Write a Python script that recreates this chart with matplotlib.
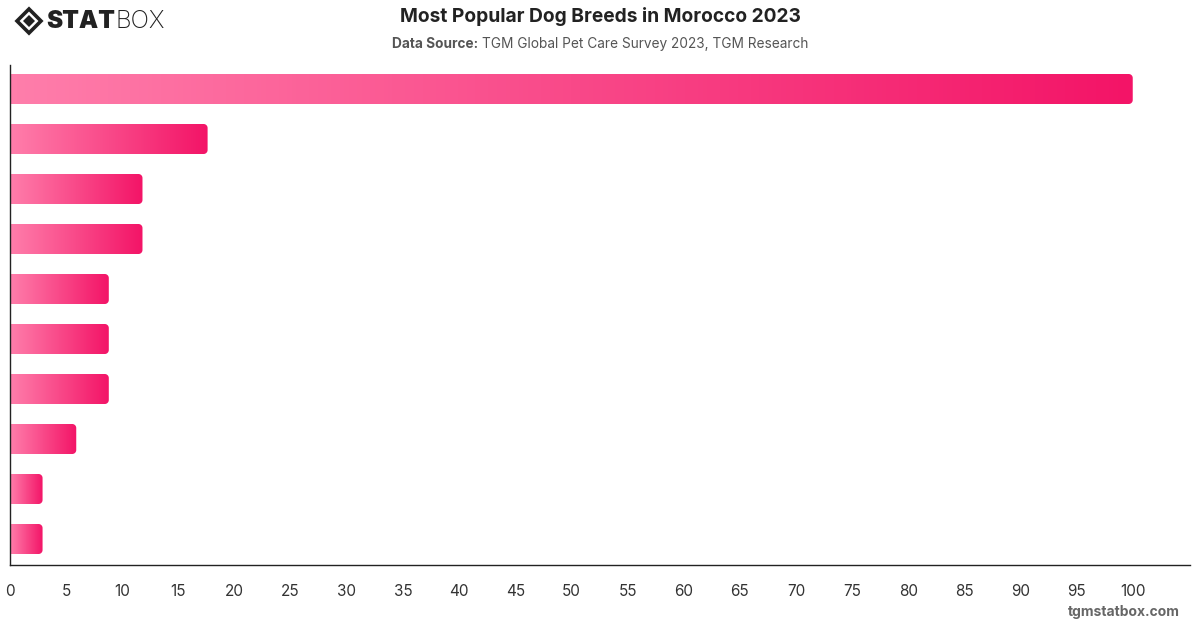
"""Most popular dog breeds in Morocco 2023 - horizontal gradient bars."""
import matplotlib

matplotlib.use("Agg")
import matplotlib.pyplot as plt  # noqa: E402
import numpy as np  # noqa: E402
from matplotlib.colors import LinearSegmentedColormap  # noqa: E402
from matplotlib.patches import PathPatch, Polygon  # noqa: E402
from matplotlib.path import Path  # noqa: E402

plt.rcParams["font.family"] = ["Inter", "DejaVu Sans"]

# breed names are not shown on the chart, so only the rank is kept
ranks = [1, 2, 3, 4, 5, 6, 7, 8, 9, 10]
values = [100, 17.6, 11.8, 11.8, 8.8, 8.8, 8.8, 5.9, 2.9, 2.9]
xticks = list(range(0, 101, 5))

title = "Most Popular Dog Breeds in Morocco 2023"
source = "TGM Global Pet Care Survey 2023, TGM Research"

W, H = 1200, 628
fig = plt.figure(figsize=(W / 100, H / 100), dpi=100)
ax = fig.add_axes([10 / W, 1 - 565 / H, 1180 / W, 500 / H])

cmap = LinearSegmentedColormap.from_list("pink", ["#ff7eab", "#f31467"])
grad = np.linspace(0, 1, 256).reshape(1, -1)

ypos = np.arange(len(ranks))
bar_h = 0.6
xmax = 105.1
rx = 4 / (1180 / xmax)   # 4 px corner radius in data units
ry = 4 / 50


def right_rounded(x1, y0, y1):
    """Rectangle from x=-1 to x1, with rounded right corners."""
    t = np.linspace(0, np.pi / 2, 12)
    top = [(x1 - rx + rx * np.sin(a), y0 + ry - ry * np.cos(a)) for a in t]
    bot = [(x1 - rx + rx * np.cos(a), y1 - ry + ry * np.sin(a)) for a in t]
    verts = [(-1, y0)] + top + bot + [(-1, y1), (-1, y0)]
    codes = [Path.MOVETO] + [Path.LINETO] * (len(verts) - 2) + [Path.CLOSEPOLY]
    return Path(verts, codes)


for y, v in zip(ypos, values):
    clip = PathPatch(right_rounded(v, y - bar_h / 2, y + bar_h / 2),
                     facecolor="none", edgecolor="none", transform=ax.transData)
    ax.add_patch(clip)
    im = ax.imshow(grad, cmap=cmap, aspect="auto",
                   extent=(0, v, y + bar_h / 2, y - bar_h / 2),
                   interpolation="bilinear", zorder=2)
    im.set_clip_path(clip)

ax.set_xlim(0, xmax)
ax.set_ylim(len(ranks) - 0.48, -0.48)
ax.set_yticks([])
ax.set_xticks(xticks)
ax.tick_params(axis="x", length=0, pad=14, labelsize=11, labelcolor="#333333")
for side in ("top", "right"):
    ax.spines[side].set_visible(False)
for side in ("left", "bottom"):
    ax.spines[side].set_color("#222222")
    ax.spines[side].set_linewidth(1.0)
ax.spines["left"].set_zorder(5)

fig.text(0.5, 1 - 17 / H, title, ha="center", va="center",
         fontsize=13.8, fontweight="bold", color="#222222")
t1 = fig.text(0.5, 1 - 44 / H, "Data Source: ", ha="right", va="center",
              fontsize=9.85, fontweight="bold", color="#555555")
t2 = fig.text(0.5, 1 - 44 / H, source, ha="left", va="center",
              fontsize=9.85, color="#555555")
# center the two-part subtitle
fig.canvas.draw()
r = fig.canvas.get_renderer()
shift = (t1.get_window_extent(r).width - t2.get_window_extent(r).width) / 2 / W
t1.set_x(0.5 + shift)
t2.set_x(0.5 + shift)

fig.text(1180 / W, 1 - 612 / H, "tgmstatbox.com", ha="right", va="center",
         fontsize=10, fontweight="bold", color="#666666")

# logo
cx, cy, s = 29 / W, 1 - 21 / H, 12
outer = [(cx - s / W, cy), (cx, cy + s / H), (cx + s / W, cy), (cx, cy - s / H)]
inner_s = 6
inner = [(cx - inner_s / W, cy), (cx, cy + inner_s / H),
         (cx + inner_s / W, cy), (cx, cy - inner_s / H)]
fig.patches.append(Polygon(outer, closed=True, fill=False, edgecolor="#222222",
                           linewidth=2.6, transform=fig.transFigure))
fig.patches.append(Polygon(inner, closed=True, facecolor="#222222",
                           edgecolor="none", transform=fig.transFigure))
ts = fig.text(46 / W, cy, "STAT", ha="left", va="center", fontsize=17.5,
              fontweight="black", color="#222222")
fig.canvas.draw()
sw = ts.get_window_extent(fig.canvas.get_renderer()).width
fig.text((46 + sw + 1) / W, cy, "BOX", ha="left", va="center", fontsize=17.5,
         fontweight="light", color="#222222")

fig.savefig("out.png", dpi=100)
